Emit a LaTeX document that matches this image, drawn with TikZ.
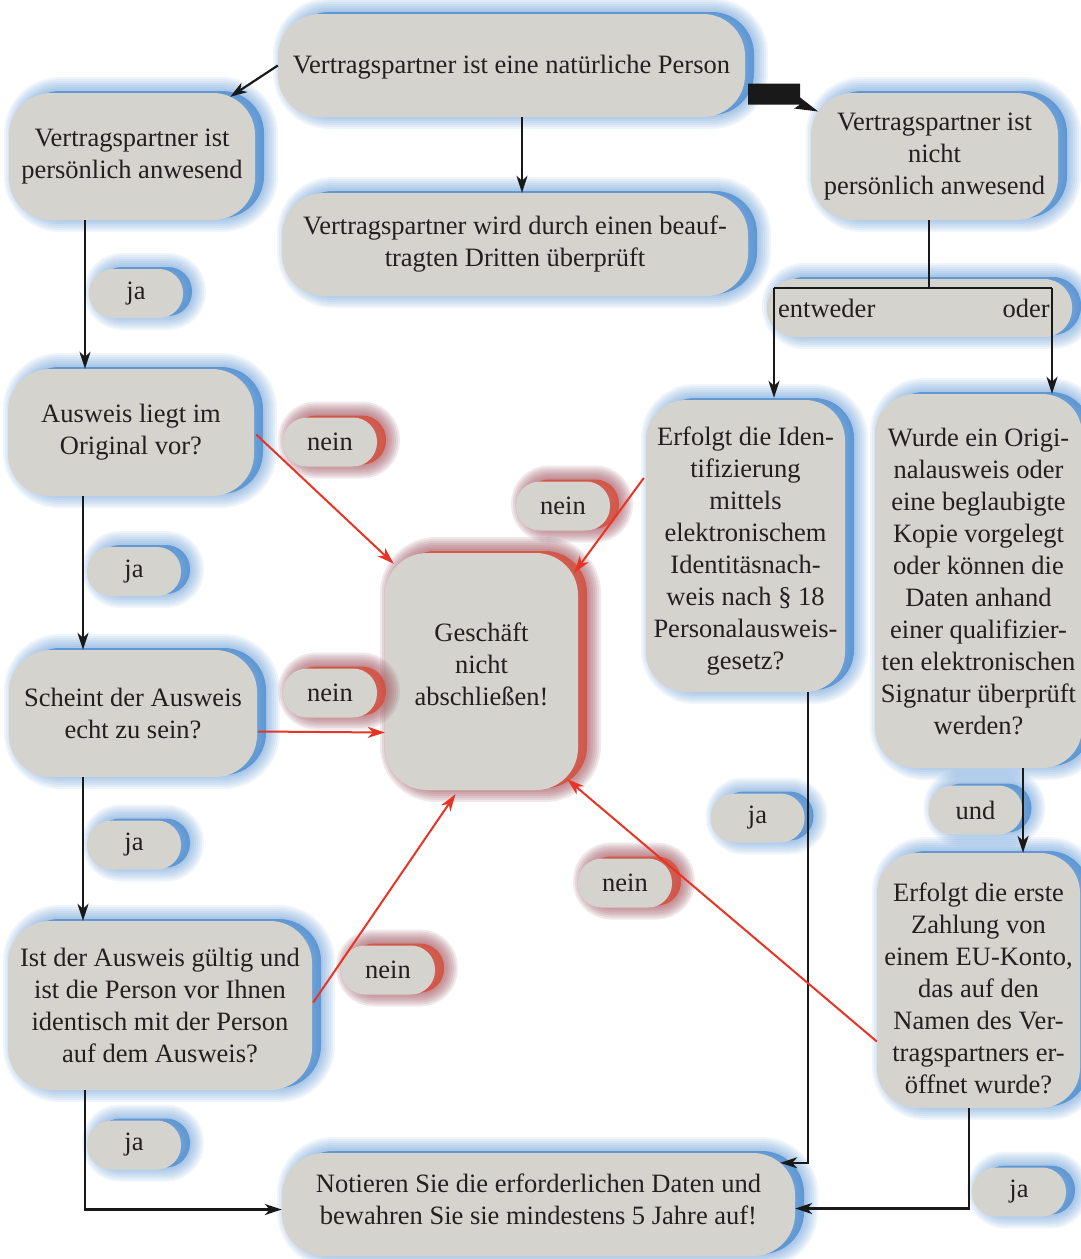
\documentclass[tikz,border=0pt]{standalone}
\usepackage{fontspec}
\setmainfont{Liberation Serif}
\usetikzlibrary{arrows.meta,calc}
\definecolor{boxfill}{RGB}{213,211,206}
\definecolor{glowB}{RGB}{55,125,200}
\definecolor{glowR}{RGB}{242,72,38}
\definecolor{redline}{RGB}{232,52,37}
\definecolor{txt}{RGB}{35,31,32}
\tikzset{
  gl/.style 2 args={preaction={draw=#1, line width=#2, opacity=0.075, transform canvas={xshift=9pt,yshift=2pt}}},
  glowbase/.style={
    gl={#1}{28pt}, gl={#1}{24pt}, gl={#1}{20pt}, gl={#1}{16pt}, gl={#1}{12pt}, gl={#1}{8pt}, gl={#1}{4pt},
    preaction={fill=#1, opacity=0.65, transform canvas={xshift=9pt,yshift=2pt}}},
  box/.style={glowbase=glowB, fill=boxfill, text=txt, rounded corners=42pt, align=center,
    inner sep=0pt, font=\fontsize{26.5}{32}\selectfont},
  redbox/.style={box, glowbase=glowR},
  pill/.style={glowbase=glowB, fill=boxfill, text=txt, rounded corners=24pt, align=center,
    inner sep=0pt, minimum width=94pt, minimum height=49pt, font=\fontsize{26.5}{32}\selectfont},
  redpill/.style={pill, glowbase=glowR},
  boxtext/.style={text=txt, align=center, inner sep=0pt, font=\fontsize{26.5}{32}\selectfont},
  arr/.style={draw=black!90, line width=2.2pt, -{Stealth[length=17pt,width=11pt,inset=5pt]}},
  ln/.style={draw=black!90, line width=2.2pt},
  rarr/.style={draw=redline, line width=2pt, -{Stealth[length=17pt,width=11pt,inset=5pt]}},
}
\begin{document}
\begin{tikzpicture}[x=1pt,y=-1pt]
\useasboundingbox (0,0) rectangle (1080,1259);
% nodes
\node[box, minimum width=467pt, minimum height=103pt] (top) at (511.5,65.5) {};
\node[boxtext] (topT) at ($(top.center)+(0,2)$) {Vertragspartner ist eine natürliche Person};
\node[box, minimum width=246pt, minimum height=127pt] (lp) at (132,156.5) {Vertragspartner ist\\persönlich anwesend};
\node[box, minimum width=466pt, minimum height=103pt] (mid) at (515,244.5) {Vertragspartner wird durch einen beauf-\\tragten Dritten überprüft};
\node[box, minimum width=247pt, minimum height=127pt] (rp) at (934.5,156.5) {Vertragspartner ist\\nicht\\persönlich anwesend};
\node[box, rounded corners=28pt, minimum width=305pt, minimum height=58pt] (bar) at (919.5,308) {};
\node[boxtext, anchor=base west] (entw) at (778,317) {entweder};
\node[boxtext, anchor=base east] (oder) at (1050,317) {oder};
\node[pill] (ja1) at (136,293.5) {ja};
\node[box, minimum width=246pt, minimum height=127pt] (aus) at (131,432.5) {Ausweis liegt im\\Original vor?};
\node[redpill] (nein1) at (330,442) {nein};
\node[redpill] (nein2) at (563,506) {nein};
\node[redbox, minimum width=193pt, minimum height=237pt] (ges) at (481.5,671.5) {};
\node[boxtext] (gesT) at ($(ges.center)+(0,-7)$) {Geschäft\\nicht\\abschließen!};
\node[box, rounded corners=40pt, minimum width=199pt, minimum height=292pt] (eid) at (745.5,546) {};
\node[boxtext] (eidT) at ($(eid.center)+(0,5)$) {Erfolgt die Iden-\\tifizierung\\mittels\\elektronischem\\Identitäsnach-\\weis nach § 18\\Personalausweis-\\gesetz?};
\node[box, rounded corners=40pt, minimum width=207pt, minimum height=374pt] (wur) at (978.5,581) {Wurde ein Origi-\\nalausweis oder\\eine beglaubigte\\Kopie vorgelegt\\oder können die\\Daten anhand\\einer qualifizier-\\ten elektronischen\\Signatur überprüft\\werden?};
\node[pill] (ja2) at (134,571.5) {ja};
\node[box, minimum width=248pt, minimum height=127pt] (sch) at (133,713.5) {Scheint der Ausweis\\echt zu sein?};
\node[redpill] (nein3) at (330,693) {nein};
\node[pill] (ja3) at (134,845) {ja};
\node[pill] (ja4) at (757.5,818) {ja};
\node[pill] (und) at (975.5,810) {und};
\node[redpill] (nein4) at (625,883) {nein};
\node[box, rounded corners=40pt, minimum width=203pt, minimum height=255pt] (ee) at (978.5,980.5) {};
\node[boxtext] (eeT) at ($(ee.center)+(0,8)$) {Erfolgt die erste\\Zahlung von\\einem EU-Konto,\\das auf den\\Namen des Ver-\\tragspartners er-\\öffnet wurde?};
\node[box, minimum width=304pt, minimum height=169pt] (ist) at (160,1005.5) {Ist der Ausweis gültig und\\ist die Person vor Ihnen\\identisch mit der Person\\auf dem Ausweis?};
\node[redpill] (nein5) at (388,970) {nein};
\node[pill] (ja5) at (134,1145) {ja};
\node[box, minimum width=513pt, minimum height=103pt] (not) at (538.5,1204.5) {};
\node[boxtext] (notT) at ($(not.center)+(0,-5)$) {Notieren Sie die erforderlichen Daten und\\bewahren Sie sie mindestens 5 Jahre auf!};
\node[pill] (ja6) at (1019,1192) {ja};
% helper coordinates
\coordinate (colL) at (85,0);
\coordinate (colL2) at (83,0);
\coordinate (colM) at (522,0);
\coordinate (split) at (929,288);
\coordinate (brL) at (774,288);
\coordinate (brR) at (1052,288);
\coordinate (colE) at (808,0);
\coordinate (colW) at (1023,0);
\coordinate (colZ) at (969,0);
% black connectors
\draw[arr] (top.west) -- ($(lp.north east)+(-25,4)$);
\draw[arr] (top.south -| colM) -- (mid.north -| colM);
\fill[black!90] ($(top.east)+(3,18)$) -- ++(52,0) -- ++(0,14) -- ++(18,14) -- ++(-24,-3) -- ++(6,-4) -- ++(-52,0) -- cycle;
\draw[arr] (lp.south -| colL) -- (aus.north -| colL);
\draw[arr] (aus.south -| colL2) -- (sch.north -| colL2);
\draw[arr] (sch.south -| colL2) -- (ist.north -| colL2);
\draw[arr] (ist.south -| colL) |- ($(not.west)+(0,5)$);
\draw[ln] (rp.south -| split) -- (split);
\draw[ln] (brL) -- (brR);
\draw[arr] (brL) -- ($(brL |- eid.north)+(0,-2)$);
\draw[arr] (brR) -- ($(brR |- wur.north)+(0,0)$);
\draw[arr] (eid.south -| colE) |- ($(not.north east)+(-15,10)$);
\draw[arr] (wur.south -| colW) -- (ee.north -| colW);
\draw[arr] (ee.south -| colZ) |- ($(not.east)+(0,4)$);
% red connectors
\draw[rarr] ($(aus.east)+(2,2)$) -- ($(ges.north west)+(9,11)$);
\draw[rarr] ($(eid.west)+(-2,-68)$) -- ($(ges.north east)+(-4,20)$);
\draw[rarr] ($(sch.east)+(1,18)$) -- ($(ges.west)+(0,61)$);
\draw[rarr] ($(ist.east)+(1,-3)$) -- ($(ges.south)+(-26,4)$);
\draw[rarr] ($(ee.west)+(0,61)$) -- ($(ges.south east)+(-11,-11)$);
\end{tikzpicture}
\end{document}
